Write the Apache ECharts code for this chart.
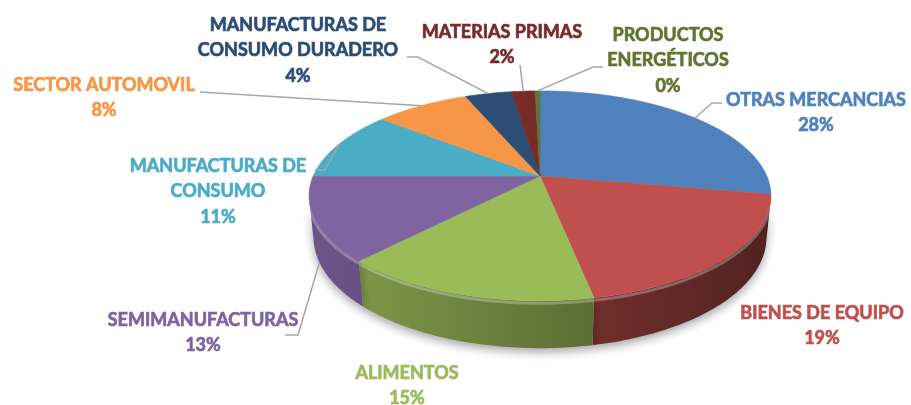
<!DOCTYPE html>
<html>
<head>
<meta charset="utf-8">
<script src="https://cdn.jsdelivr.net/npm/echarts@6/dist/echarts.min.js"></script>
<style>
  html, body { margin: 0; padding: 0; background: #fff; }
  #chart { width: 911px; height: 405px; }
</style>
</head>
<body>
<div id="chart"></div>
<script>
var categories = ['OTRAS MERCANCIAS', 'BIENES DE EQUIPO', 'ALIMENTOS', 'SEMIMANUFACTURAS',
  'MANUFACTURAS DE\nCONSUMO', 'SECTOR AUTOMOVIL', 'MANUFACTURAS DE\nCONSUMO DURADERO',
  'MATERIAS PRIMAS', 'PRODUCTOS\nENERGÉTICOS'];
var values = [27.8, 19.1, 15.2, 12.9, 10.8, 7.9, 3.9, 2.0, 0.4];
var colors = ['#4F81BD', '#C0504D', '#9BBB59', '#8064A2', '#4BACC6', '#F79646', '#2C4D75', '#772C2A', '#5F7530'];

// label placement (first line centre) and leader end, like the excel manual layout
var labelLayout = [
  { x: 816, y: 100, end: [722, 103], elbow: 10 },
  { x: 822, y: 313, end: null },
  { x: 407, y: 373, end: null },
  { x: 203, y: 320, end: [285, 335], elbow: 13 },
  { x: 218, y: 166, end: [315, 170], elbow: 10 },
  { x: 104, y: 85, end: [200, 92], elbow: 0 },
  { x: 298, y: 25, end: [407, 57], elbow: 11 },
  { x: 502, y: 32, end: [520, 65], elbow: 0 },
  { x: 668, y: 35, end: [603, 67], elbow: 10 }
];

var total = values.reduce(function (a, b) { return a + b; }, 0);
var starts = [];
values.reduce(function (acc, v, i) { starts[i] = acc; return acc + v; }, 0);

// fake 3d: disk seen from above with a bit of perspective
var cam = { cx: 540, cy: 176, f: 1075, d: 4.74, tilt: 26.5 * Math.PI / 180, depth: 0.206 };
var sT = Math.sin(cam.tilt), cT = Math.cos(cam.tilt);

function project(theta, h) {
  var u = Math.sin(theta), v = -Math.cos(theta);
  var z = cam.d - v * cT - h * sT;
  return [cam.cx + cam.f * u / z, cam.cy + cam.f * (v * sT - h * cT) / z];
}

function arc(t1, t2, h) {
  var n = Math.max(2, Math.ceil(Math.abs(t2 - t1) / (Math.PI / 180)));
  var pts = [];
  for (var k = 0; k <= n; k++) {
    pts.push(project(t1 + (t2 - t1) * k / n, h));
  }
  return pts;
}

// part of the side wall that faces the viewer
var sideFrom = Math.acos(-1 / (cam.d * cT));
var sideTo = 2 * Math.PI - sideFrom;

function angles(i, v) {
  var t1 = starts[i] / total * 2 * Math.PI;
  return [t1, t1 + v / total * 2 * Math.PI];
}

function shade(hex, k) {
  var c = echarts.color.parse(hex);
  return 'rgb(' + Math.round(c[0] * k) + ',' + Math.round(c[1] * k) + ',' + Math.round(c[2] * k) + ')';
}

function renderSide(params, api) {
  var i = params.dataIndex;
  var t = angles(i, api.value(0));
  var a = Math.max(t[0], sideFrom), b = Math.min(t[1], sideTo);
  if (a >= b) return null;
  var top = arc(a, b, 0);
  var pts = top.concat(arc(b, a, -cam.depth));
  var fill = new echarts.graphic.LinearGradient(310, 0, 770, 0, [
    { offset: 0, color: shade(colors[i], 0.85) },
    { offset: 1, color: shade(colors[i], 0.42) }
  ], true);
  var hl = top.map(function (p) { return [p[0], p[1] + 2.5]; });
  return {
    type: 'group',
    children: [{
      type: 'polygon',
      shape: { points: pts },
      style: {
        fill: fill,
        shadowColor: 'rgba(0,0,0,0.35)', shadowBlur: 10, shadowOffsetY: 4
      }
    }, {
      type: 'polyline',
      shape: { points: hl },
      style: { stroke: 'rgba(255,255,255,0.28)', lineWidth: 3, fill: null }
    }]
  };
}

function renderTop(params, api) {
  var i = params.dataIndex;
  var t = angles(i, api.value(0));
  var pts = [[cam.cx, cam.cy]].concat(arc(t[0], t[1], 0));
  return {
    type: 'polygon',
    shape: { points: pts },
    style: { fill: colors[i], stroke: colors[i], lineWidth: 0.6 }
  };
}

function renderLabel(params, api) {
  var i = params.dataIndex;
  var v = api.value(0);
  var t = angles(i, v);
  var mid = (t[0] + t[1]) / 2;
  var L = labelLayout[i];
  var children = [];
  if (L.end) {
    var front = mid > sideFrom && mid < sideTo;
    var anchor = project(mid, front ? -cam.depth : 0);
    var dir = anchor[0] > L.end[0] ? 1 : -1;
    var elbow = [L.end[0] + dir * L.elbow, L.end[1]];
    children.push({
      type: 'polyline',
      shape: { points: [anchor, elbow, L.end] },
      style: { stroke: '#A6A6A6', lineWidth: 1.5, fill: null }
    });
  }
  children.push({
    type: 'text',
    x: L.x,
    y: L.y - 12.75,
    style: {
      text: categories[i] + '\n' + Math.round(v / total * 100) + '%',
      fill: colors[i],
      fontFamily: 'Lato',
      fontWeight: 'bold',
      fontSize: 18,
      lineHeight: 25.5,
      align: 'center',
      verticalAlign: 'top',
      stroke: colors[i],
      lineWidth: 0.7
    }
  });
  return { type: 'group', children: children };
}

var chart = echarts.init(document.getElementById('chart'), null, { renderer: 'canvas' });
chart.setOption({
  animation: false,
  series: [
    { type: 'custom', name: 'side', coordinateSystem: 'none', z: 1, silent: true, data: values, renderItem: renderSide },
    { type: 'custom', name: 'top', coordinateSystem: 'none', z: 2, silent: true, data: values, renderItem: renderTop },
    { type: 'custom', name: 'labels', coordinateSystem: 'none', z: 3, silent: true, data: values, renderItem: renderLabel }
  ]
});
</script>
</body>
</html>
